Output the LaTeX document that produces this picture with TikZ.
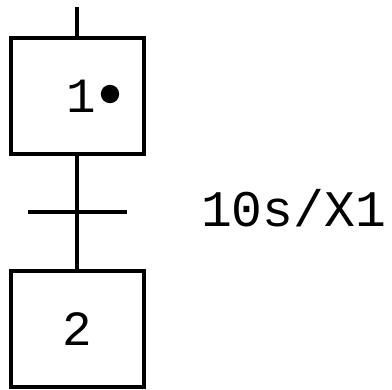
\documentclass[tikz,border=0pt]{standalone}
\usepackage{fontspec}
\newfontfamily\grafcetfont{Liberation Mono}
\usetikzlibrary{positioning}

\begin{document}
\begin{tikzpicture}[line width=0.1cm,
  stepbox/.style={draw,minimum width=3.325cm,minimum height=2.9cm,inner sep=0,font=\grafcetfont\fontsize{35}{35}\selectfont},
  condlabel/.style={font=\grafcetfont\fontsize{36.5}{36.5}\selectfont,anchor=base west,inner sep=0}]
\useasboundingbox (0,0) rectangle (9.8,9.75);
\coordinate (init) at (1.9375,9.575);
\node[stepbox] (step1) at (1.9375,7.3375) {\hspace{0.2cm}1};
\node[circle,fill,inner sep=0,minimum size=0.46cm] (token) at (2.75,7.4) {};
\coordinate (t1) at (1.9375,4.4375);
\node[stepbox] (step2) at (1.9375,1.5125) {2};
\node[condlabel] (cond) at (4.98,4.075) {10s/X1};
\draw (init) -- (step1);
\draw (step1) -- (t1) -- (step2);
% transition bar
\draw ([xshift=-1.2375cm]t1) -- ([xshift=1.2375cm]t1);
\end{tikzpicture}
\end{document}
